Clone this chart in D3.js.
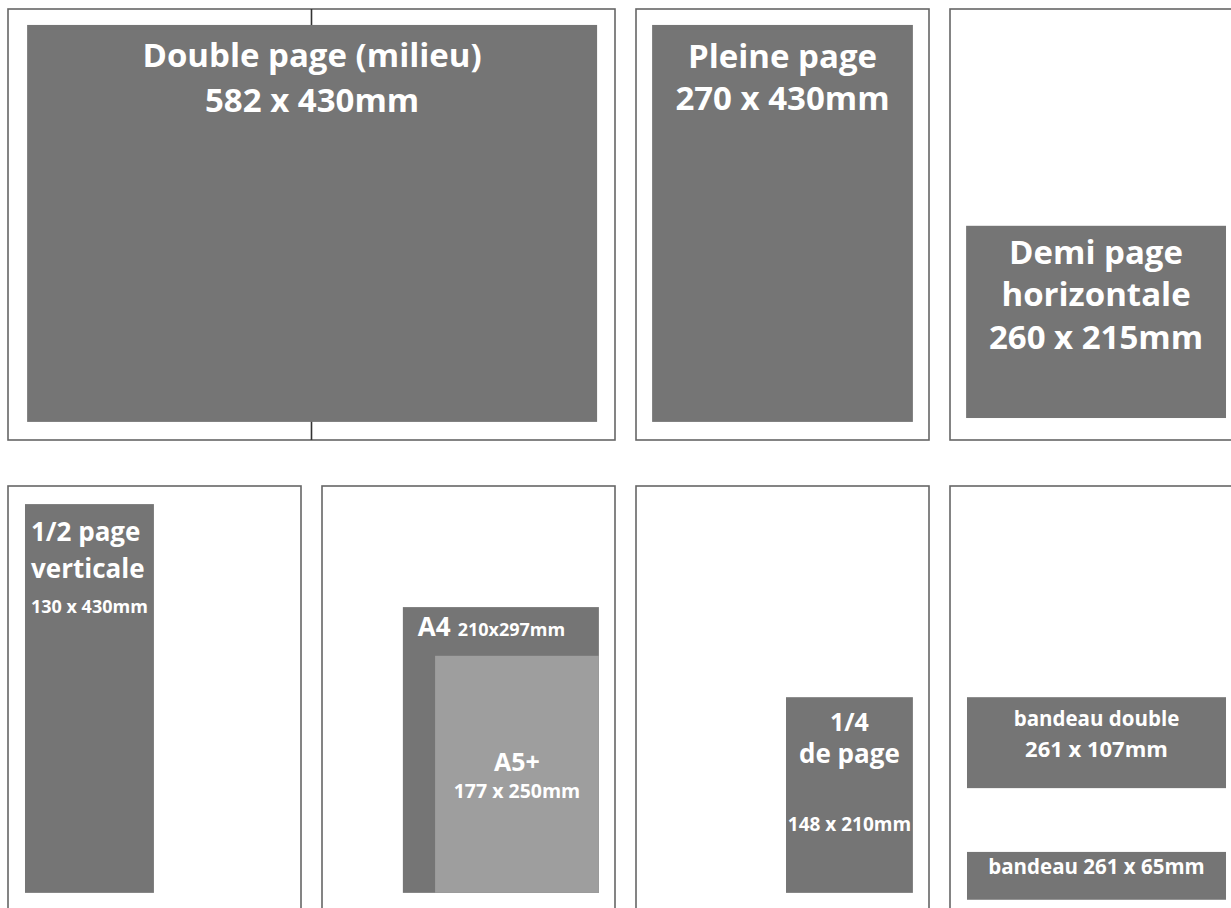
<!DOCTYPE html>
<html>
<head>
<meta charset="utf-8">
<script src="https://cdn.jsdelivr.net/npm/d3@7"></script>
<style>
  html, body { margin: 0; padding: 0; background: #fff; overflow: hidden; }
  text { font-family: "Open Sans", "DejaVu Sans", sans-serif; font-weight: 700; fill: #fff; }
</style>
</head>
<body>
<div id="formats"></div>
<script>
var w = 1231,
    h = 908;

// ad formats (label, size in mm)
var formats = ["Double page (milieu)", "Pleine page", "Demi page horizontale", "1/2 page verticale", "A4", "A5+", "1/4 de page", "bandeau double", "bandeau"];
var widthMm = [582, 270, 260, 130, 210, 177, 148, 261, 261];
var heightMm = [430, 430, 215, 430, 297, 250, 210, 107, 65];

// page frames : grid column, grid row, how many columns
var pageCol = [0, 2, 3, 0, 1, 2, 3];
var pageRow = [0, 0, 0, 1, 1, 1, 1];
var pageSpan = [2, 1, 1, 1, 1, 1, 1];

// which page each format sits on, and where (page units, 100 = one page wide / high)
var boxPage = [0, 1, 2, 3, 4, 4, 5, 6, 6];
var boxX = [[6.3, 194.1], [5.5, 94.5], [5.5, 94.2], [5.8, 49.8], [27.6, 94.5], [38.6, 94.5], [51.2, 94.5], [5.8, 94.2], [5.8, 94.2]];
var boxY = [[3.7, 95.8], [3.7, 95.8], [50.3, 94.9], [4.2, 94.4], [28.1, 94.4], [39.4, 94.4], [49.0, 94.4], [49.0, 70.1], [84.9, 96.0]];
var boxFill = ["#757575", "#757575", "#757575", "#757575", "#757575", "#9e9e9e", "#757575", "#757575", "#757575"];

// text lines of every format : [format, text, baseline (page units), font size]
var lines = [
  [0, "Double page (milieu)", 13.5, 33],
  [0, "dims", 23.9, 33],
  [1, "Pleine page", 13.7, 33],
  [1, "dims", 23.5, 33],
  [2, "Demi page", 59.2, 33],
  [2, "horizontale", 69.0, 33],
  [2, "dims", 79.0, 33],
  [3, "1/2 page", 12.8, 26],
  [3, "verticale", 21.4, 26],
  [3, "dims", 29.5, 18],
  [5, "A5+", 66.1, 25],
  [5, "dims", 72.3, 19.5],
  [6, "1/4", 56.9, 25],
  [6, "de page", 64.3, 26],
  [6, "dims", 80.0, 19],
  [7, "bandeau double", 55.7, 20.5],
  [7, "dims", 62.9, 22],
  [8, "bandeau dims", 90.0, 20.5]
];

var svg = d3.select('#formats').append('svg')
  .attr('width', w)
  .attr('height', h);

var col = d3.scaleBand()
  .domain([0, 1, 2, 3])
  .range([8, 1243])
  .paddingInner(21 / 314);

var row = d3.scaleBand()
  .domain([0, 1])
  .range([9, 917])
  .paddingInner(46 / 477);

function pageScales(p) {
  var x0 = col(pageCol[p]);
  var x1 = x0 + col.step() * pageSpan[p] - (col.step() - col.bandwidth());
  var y0 = row(pageRow[p]);
  return {
    x: d3.scaleLinear().domain([0, 100 * pageSpan[p]]).range([x0, x1]),
    y: d3.scaleLinear().domain([0, 100]).range([y0, y0 + row.bandwidth()])
  };
}

function dims(i) {
  if (formats[i] == "A4") return widthMm[i] + "x" + heightMm[i] + "mm";
  return widthMm[i] + " x " + heightMm[i] + "mm";
}

// page frames
svg.selectAll('rect.page')
  .data(d3.range(pageCol.length))
  .enter().append('rect')
  .attr('class', 'page')
  .attr('x', function(d) { return pageScales(d).x(0); })
  .attr('y', function(d) { return pageScales(d).y(0); })
  .attr('width', function(d) { var s = pageScales(d).x; return s(100 * pageSpan[d]) - s(0); })
  .attr('height', function(d) { var s = pageScales(d).y; return s(100) - s(0); })
  .attr('fill', '#fff')
  .attr('stroke', '#666')
  .attr('stroke-width', 1.6);

// fold of the double page
var fold = pageScales(0);
svg.append('line')
  .attr('x1', fold.x(100)).attr('x2', fold.x(100))
  .attr('y1', fold.y(0)).attr('y2', fold.y(100))
  .attr('stroke', '#333')
  .attr('stroke-width', 1.6);

// format boxes
svg.selectAll('rect.box')
  .data(d3.range(formats.length))
  .enter().append('rect')
  .attr('class', 'box')
  .attr('x', function(d) { return pageScales(boxPage[d]).x(boxX[d][0]); })
  .attr('y', function(d) { return pageScales(boxPage[d]).y(boxY[d][0]); })
  .attr('width', function(d) { var s = pageScales(boxPage[d]).x; return s(boxX[d][1]) - s(boxX[d][0]); })
  .attr('height', function(d) { var s = pageScales(boxPage[d]).y; return s(boxY[d][1]) - s(boxY[d][0]); })
  .attr('fill', function(d) { return boxFill[d]; });

// labels, centred in their box (the 1/2 page one sits on the left)
svg.selectAll('text.label')
  .data(lines)
  .enter().append('text')
  .attr('class', 'label')
  .attr('x', function(d) {
    var i = d[0], s = pageScales(boxPage[i]).x;
    if (i == 3) return s(boxX[i][0]) + 6;
    return (s(boxX[i][0]) + s(boxX[i][1])) / 2;
  })
  .attr('y', function(d) { return pageScales(boxPage[d[0]]).y(d[2]); })
  .attr('text-anchor', function(d) { return d[0] == 3 ? 'start' : 'middle'; })
  .style('font-size', function(d) { return d[3] + 'px'; })
  .text(function(d) { return d[1].replace("dims", dims(d[0])); });

// A4 label : big name then the size, top left of the box
var a4 = pageScales(boxPage[4]);
var a4Text = svg.append('text')
  .attr('x', a4.x(boxX[4][0]) + 15)
  .attr('y', a4.y(34.8));
a4Text.append('tspan').style('font-size', '26px').text(formats[4]);
a4Text.append('tspan').attr('dx', 7).style('font-size', '18px').text(dims(4));
</script>
</body>
</html>
